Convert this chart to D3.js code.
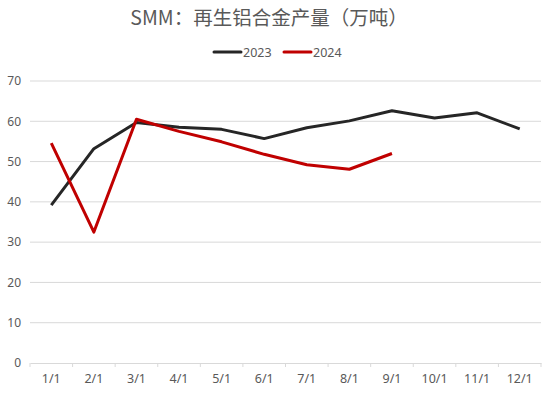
<!DOCTYPE html>
<html>
<head>
<meta charset="utf-8">
<script src="https://cdn.jsdelivr.net/npm/d3@7"></script>
<style>
  body { margin: 0; background: #fff; }
  text { font-family: "Noto Sans", "Noto Sans CJK SC", sans-serif; }
</style>
</head>
<body>
<div id="chart"></div>
<script>
var months = ['1/1', '2/1', '3/1', '4/1', '5/1', '6/1', '7/1', '8/1', '9/1', '10/1', '11/1', '12/1']
var values2023 = [39.2, 53.2, 59.7, 58.5, 58.0, 55.7, 58.4, 60.1, 62.6, 60.8, 62.1, 58.1]
var values2024 = [54.6, 32.5, 60.5, 57.5, 54.9, 51.8, 49.2, 48.1, 52.0]
var yTicks = [0, 10, 20, 30, 40, 50, 60, 70]
var seriesNames = ['2023', '2024']
var seriesColors = ['#262626', '#c00000']

var width = 550
var height = 397
var margin = { top: 81, left: 30, right: 9, bottom: 34 }

var svg = d3
  .select('#chart')
  .append('svg')
  .attr('width', width)
  .attr('height', height)

var xScale = d3
  .scaleBand()
  .domain(months)
  .range([margin.left, width - margin.right])

var yScale = d3
  .scaleLinear()
  .domain([0, 70])
  .range([height - margin.bottom, margin.top])

// gridlines
svg
  .selectAll('.grid')
  .data(yTicks.filter(d => d > 0))
  .enter()
  .append('line')
  .attr('class', 'grid')
  .attr('x1', margin.left)
  .attr('x2', width - margin.right)
  .attr('y1', d => yScale(d))
  .attr('y2', d => yScale(d))
  .attr('stroke', '#d9d9d9')
  .attr('stroke-width', 1)

// x axis
var xAxis = svg
  .append('g')
  .attr('transform', 'translate(0,' + yScale(0) + ')')
  .call(d3.axisBottom(xScale).tickSize(0).tickPadding(11))

xAxis.select('.domain').attr('stroke', '#d9d9d9')
xAxis
  .selectAll('text')
  .attr('fill', '#595959')
  .attr('font-size', 12.5)
  .style('font-family', '"Noto Sans", sans-serif')

// tick marks on band edges
svg
  .selectAll('.xtick')
  .data(months.concat(['end']))
  .enter()
  .append('line')
  .attr('class', 'xtick')
  .attr('x1', (d, i) => margin.left + i * xScale.step())
  .attr('x2', (d, i) => margin.left + i * xScale.step())
  .attr('y1', yScale(0))
  .attr('y2', yScale(0) + 4)
  .attr('stroke', '#d9d9d9')

// y axis labels
var yAxis = svg
  .append('g')
  .attr('transform', 'translate(' + margin.left + ',0)')
  .call(d3.axisLeft(yScale).tickValues(yTicks).tickSize(0).tickPadding(9))

yAxis.select('.domain').remove()
yAxis
  .selectAll('text')
  .attr('fill', '#595959')
  .attr('font-size', 12)
  .style('font-family', '"Noto Sans", sans-serif')

var line = d3
  .line()
  .x((d, i) => xScale(months[i]) + xScale.bandwidth() / 2)
  .y(d => yScale(d))

var allSeries = [values2023, values2024]

svg
  .selectAll('.series')
  .data(allSeries)
  .enter()
  .append('path')
  .attr('class', 'series')
  .attr('d', line)
  .attr('fill', 'none')
  .attr('stroke', (d, i) => seriesColors[i])
  .attr('stroke-width', 3)
  .attr('stroke-linejoin', 'round')

// title
svg
  .append('text')
  .attr('x', width / 2 - 6)
  .attr('y', 25)
  .attr('text-anchor', 'middle')
  .attr('fill', '#595959')
  .attr('font-size', 19.5)
  .style('font-family', '"Noto Sans CJK SC", sans-serif')
  .text('SMM：再生铝合金产量（万吨）')

// legend
var legend = svg
  .selectAll('.legend')
  .data(seriesNames)
  .enter()
  .append('g')
  .attr('class', 'legend')
  .attr('transform', (d, i) => 'translate(' + (214 + i * 70) + ',52)')

legend
  .append('line')
  .attr('x1', 0)
  .attr('x2', 27)
  .attr('stroke', (d, i) => seriesColors[i])
  .attr('stroke-width', 3)
  .attr('stroke-linecap', 'round')

legend
  .append('text')
  .attr('x', 29)
  .attr('y', 4.5)
  .attr('fill', '#595959')
  .attr('font-size', 12.5)
  .text(d => d)
</script>
</body>
</html>
